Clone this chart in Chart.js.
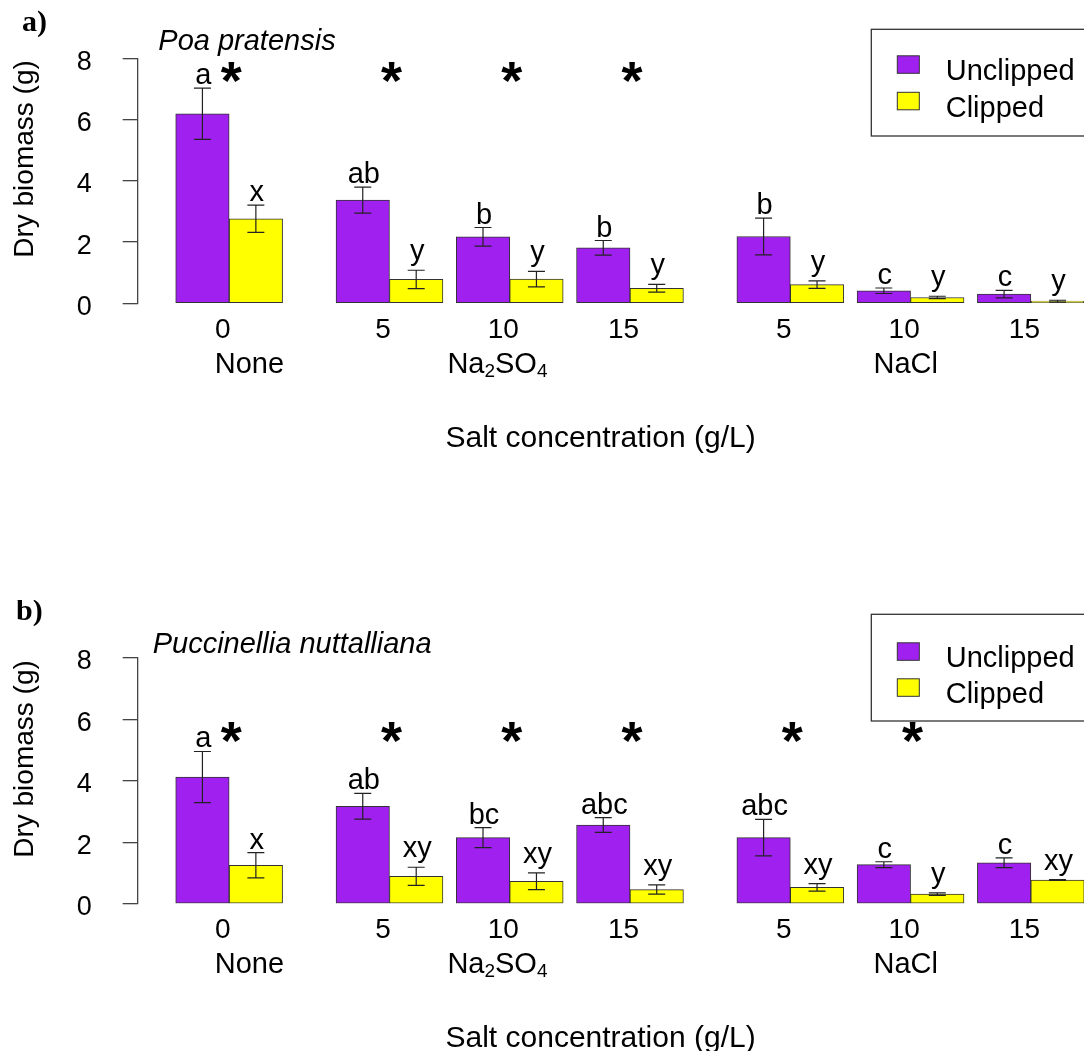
<!DOCTYPE html>
<html>
<head>
<meta charset="utf-8">
<script src="https://cdn.jsdelivr.net/npm/chart.js@4.4.1/dist/chart.umd.min.js"></script>
<style>
html,body{margin:0;padding:0;background:#fff;overflow:hidden;}
#wrap{position:relative;width:1084px;height:1051px;background:#fff;}
canvas{position:absolute;left:0;display:block;}
#c1{top:0;}
#c2{top:600px;}
</style>
</head>
<body>
<div id="wrap">
<canvas id="c1" width="1084" height="600"></canvas>
<canvas id="c2" width="1084" height="451"></canvas>
</div>
<script>
// ---------------- DATA ----------------
const categories = ['0', '5', '10', '15', '5', '10', '15'];
const treatments = ['None', 'Na2SO4', 'Na2SO4', 'Na2SO4', 'NaCl', 'NaCl', 'NaCl'];
const treatmentNames = ['None', 'Na2SO4', 'NaCl'];
const yTicks = [0, 2, 4, 6, 8];
const seriesNames = ['Unclipped', 'Clipped'];

// Panel a) Poa pratensis
const poaUnclipped   = [6.19, 3.37, 2.17, 1.81, 2.18, 0.41, 0.30];
const poaUnclippedSE = [0.835, 0.425, 0.305, 0.24, 0.60, 0.09, 0.12];
const poaClipped     = [2.76, 0.78, 0.79, 0.49, 0.61, 0.19, 0.07];
const poaClippedSE   = [0.445, 0.30, 0.255, 0.125, 0.12, 0.04, 0.03];
const poaUnclippedLetters = ['a', 'ab', 'b', 'b', 'b', 'c', 'c'];
const poaClippedLetters   = ['x', 'y', 'y', 'y', 'y', 'y', 'y'];
const poaStars = [true, true, true, true, false, false, false];

// Panel b) Puccinellia nuttalliana
const pucUnclipped   = [4.12, 3.17, 2.15, 2.56, 2.15, 1.27, 1.33];
const pucUnclippedSE = [0.83, 0.42, 0.325, 0.24, 0.595, 0.095, 0.16];
const pucClipped     = [1.25, 0.89, 0.73, 0.46, 0.53, 0.31, 0.77];
const pucClippedSE   = [0.41, 0.295, 0.27, 0.15, 0.12, 0.04, 0.01];
const pucUnclippedLetters = ['a', 'ab', 'bc', 'abc', 'abc', 'c', 'c'];
const pucClippedLetters   = ['x', 'xy', 'xy', 'xy', 'xy', 'y', 'xy'];
const pucStars = [true, true, true, true, true, true, false];

// ---------------- LAYOUT ----------------
const PURPLE = '#A020F0';
const YELLOW = '#FFFF00';
const FONT = '"Liberation Sans", Arial, Helvetica, sans-serif';
const SERIF = '"Liberation Serif", "Times New Roman", serif';

// group centres in bar-width units (R barplot style spacing)
const centers = (function () {
  const out = [];
  let pos = 0;
  for (let i = 0; i < categories.length; i++) {
    if (i > 0) pos += (treatments[i] === treatments[i - 1]) ? 0.25 : 1;
    out.push(pos + 1);
    pos += 2;
  }
  return out;
})();

function drawChem(ctx, name, cx, base) {
  const parts = [];
  const re = /([A-Za-z]+)|(\d+)/g;
  let m;
  while ((m = re.exec(name)) !== null) {
    parts.push(m[1] ? { t: m[1], sub: false } : { t: m[2], sub: true });
  }
  const big = '29px ' + FONT, small = '19px ' + FONT;
  let w = 0;
  parts.forEach(p => { ctx.font = p.sub ? small : big; p.w = ctx.measureText(p.t).width; w += p.w; });
  let x = cx - w / 2;
  ctx.textAlign = 'left';
  parts.forEach(p => {
    ctx.font = p.sub ? small : big;
    ctx.fillText(p.t, x, p.sub ? base + 4 : base);
    x += p.w;
  });
}

const annotPlugin = {
  id: 'annot',
  afterDatasetsDraw(chart, args, o) {
    const ctx = chart.ctx, xs = chart.scales.x, ys = chart.scales.y;
    ctx.save();
    ctx.fillStyle = '#000';

    // error bars and letters
    chart.data.datasets.forEach((ds, di) => {
      const meta = chart.getDatasetMeta(di);
      meta.data.forEach((bar, j) => {
        const v = ds.data[j].y, se = ds.se[j];
        const x = bar.x;
        const yt = ys.getPixelForValue(v + se);
        const yb = ys.getPixelForValue(Math.max(0, v - se));
        ctx.strokeStyle = '#222';
        ctx.lineWidth = 1.2;
        ctx.beginPath();
        ctx.moveTo(x, yt); ctx.lineTo(x, yb);
        ctx.moveTo(x - 8.5, yt); ctx.lineTo(x + 8.5, yt);
        ctx.moveTo(x - 8.5, yb); ctx.lineTo(x + 8.5, yb);
        ctx.stroke();
        ctx.font = '29px ' + FONT;
        ctx.textAlign = 'center';
        ctx.textBaseline = 'alphabetic';
        const t = ds.letters[j];
        const mm = ctx.measureText(t);
        ctx.fillText(t, x + 1, yt - 4 - mm.actualBoundingBoxDescent);
      });
    });

    // legend box
    const L = o.legendTop;
    ctx.fillStyle = '#fff';
    ctx.fillRect(871.3, L, 260, 106.7);
    ctx.strokeStyle = '#333';
    ctx.lineWidth = 1.3;
    ctx.strokeRect(871.3, L, 260, 106.7);
    const cols = [PURPLE, YELLOW];
    const rows = [[o.sq1, o.tx1], [o.sq2, o.tx2]];
    rows.forEach((r, k) => {
      ctx.fillStyle = cols[k];
      ctx.fillRect(897.3, L + r[0], 22, 17.5);
      ctx.strokeStyle = '#333';
      ctx.lineWidth = 1;
      ctx.strokeRect(897.3, L + r[0], 22, 17.5);
      ctx.fillStyle = '#000';
      ctx.font = '29px ' + FONT;
      ctx.textAlign = 'left';
      ctx.textBaseline = 'alphabetic';
      ctx.fillText(seriesNames[k], 945.7, L + r[1]);
    });

    // significance stars
    ctx.fillStyle = '#000';
    ctx.font = 'bold 54px ' + FONT;
    ctx.textAlign = 'center';
    ctx.textBaseline = 'alphabetic';
    const sm = ctx.measureText('*');
    const cy = ys.getPixelForValue(o.starValue);
    const base = cy - (sm.actualBoundingBoxDescent - sm.actualBoundingBoxAscent) / 2;
    o.stars.forEach((s, j) => {
      if (s) ctx.fillText('*', xs.getPixelForValue(centers[j]) + 2, base);
    });

    // x tick labels
    ctx.font = '28px ' + FONT;
    ctx.textAlign = 'center';
    categories.forEach((c, j) => {
      ctx.fillText(c, xs.getPixelForValue(centers[j] - 0.12), 338);
    });
    // treatment labels
    const gx = [1.38, 6.02, 13.66];
    treatmentNames.forEach((n, k) => {
      drawChem(ctx, n, xs.getPixelForValue(gx[k]), 373);
    });
    // x title
    ctx.font = '30px ' + FONT;
    ctx.textAlign = 'center';
    ctx.fillText('Salt concentration (g/L)', xs.getPixelForValue(7.95), 447);

    // y title
    ctx.save();
    ctx.translate(33, 159);
    ctx.rotate(-Math.PI / 2);
    ctx.font = '28px ' + FONT;
    ctx.textAlign = 'center';
    ctx.fillText('Dry biomass (g)', 0, 0);
    ctx.restore();

    // species title
    ctx.font = 'italic 29px ' + FONT;
    ctx.textAlign = 'left';
    ctx.fillText(o.species, o.speciesX, o.speciesY);

    // panel tag
    ctx.font = 'bold 30px ' + SERIF;
    ctx.fillText(o.tag, o.tagX, o.tagY);

    ctx.restore();
  }
};

function makeChart(id, unc, uncSE, clp, clpSE, uncL, clpL, panel) {
  return new Chart(document.getElementById(id), {
    type: 'bar',
    data: {
      datasets: [
        {
          label: seriesNames[0],
          data: unc.map((v, i) => ({ x: centers[i] - 0.5, y: v })),
          backgroundColor: PURPLE, borderColor: '#333', borderWidth: 1,
          borderSkipped: false, se: uncSE, letters: uncL
        },
        {
          label: seriesNames[1],
          data: clp.map((v, i) => ({ x: centers[i] + 0.5, y: v })),
          backgroundColor: YELLOW, borderColor: '#333', borderWidth: 1,
          borderSkipped: false, se: clpSE, letters: clpL
        }
      ]
    },
    options: {
      responsive: false,
      animation: false,
      events: [],
      layout: { padding: { left: 0, right: 0, top: panel.padTop, bottom: panel.padBottom } },
      datasets: { bar: { grouped: false, categoryPercentage: 1, barPercentage: 1 } },
      plugins: { legend: { display: false }, tooltip: { enabled: false }, annot: panel },
      scales: {
        x: {
          type: 'linear', min: -0.711, max: 16.995, display: false, offset: false,
          afterBuildTicks: (s) => { s.ticks = [{ value: 0 }]; }
        },
        y: {
          min: 0, max: 8,
          afterBuildTicks: (s) => { s.ticks = yTicks.map(v => ({ value: v })); },
          afterFit: (s) => { s.width = 137.7; },
          ticks: { font: { family: FONT, size: 27 }, color: '#000', padding: 31, labelOffset: 4 },
          grid: { drawOnChartArea: false, drawTicks: true, tickLength: 15, color: '#444', lineWidth: 1.3 },
          border: { display: true, color: '#444', width: 1.3 }
        }
      }
    },
    plugins: [annotPlugin]
  });
}

makeChart('c1', poaUnclipped, poaUnclippedSE, poaClipped, poaClippedSE,
  poaUnclippedLetters, poaClippedLetters, {
    padTop: 58.3, padBottom: 296.7,
    tag: 'a)', tagX: 22, tagY: 31,
    species: 'Poa pratensis', speciesX: 158.3, speciesY: 50,
    legendTop: 29.3, sq1: 26.5, tx1: 51, sq2: 63, tx2: 87.5,
    starValue: 7.55, stars: poaStars
  });

makeChart('c2', pucUnclipped, pucUnclippedSE, pucClipped, pucClippedSE,
  pucUnclippedLetters, pucClippedLetters, {
    padTop: 57.7, padBottom: 147.3,
    tag: 'b)', tagX: 16, tagY: 20,
    species: 'Puccinellia nuttalliana', speciesX: 152.7, speciesY: 52.7,
    legendTop: 14.3, sq1: 28.5, tx1: 53, sq2: 64.5, tx2: 88.5,
    starValue: 5.58, stars: pucStars
  });
</script>
</body>
</html>
